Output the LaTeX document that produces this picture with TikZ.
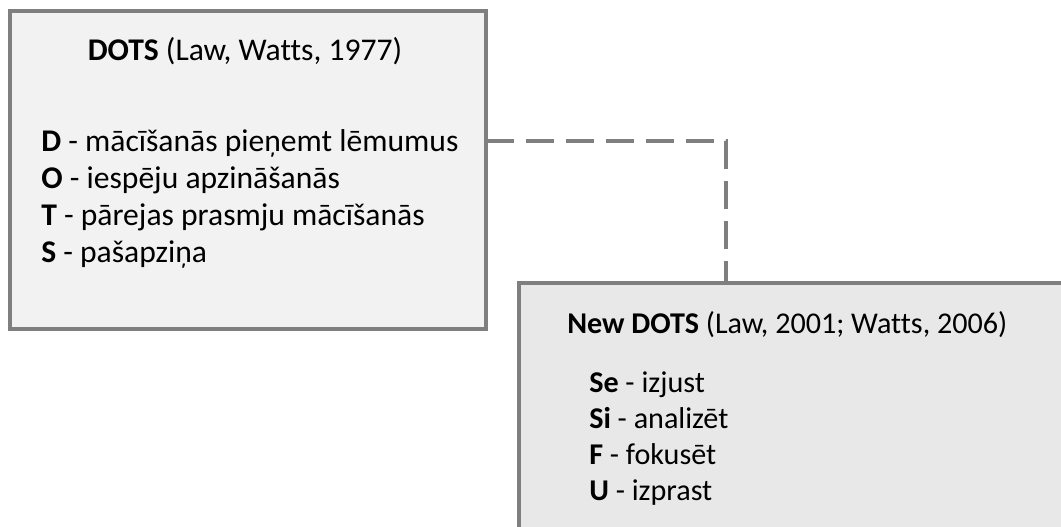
\documentclass[tikz,border=0pt]{standalone}
\usepackage{fontspec}
\setmainfont[Ligatures=CommonOff]{Carlito}
\usepackage{tikz}

\definecolor{boxgray}{HTML}{7F7F7F}
\definecolor{oldfill}{HTML}{F2F2F2}
\definecolor{newfill}{HTML}{E8E8E8}

\tikzset{
  modelbox/.style={draw=boxgray, line width=3pt, rectangle, inner sep=0pt,
    outer sep=0pt, anchor=north west},
  oldtxt/.style={inner sep=0pt, font=\fontsize{23.7}{28}\selectfont},
  newtxt/.style={inner sep=0pt, font=\fontsize{22.6}{27}\selectfont},
  olditem/.style={oldtxt, anchor=base west},
  newitem/.style={newtxt, anchor=base west},
  linkline/.style={draw=boxgray, line width=3pt, dash pattern=on 21pt off 9pt}
}

\begin{document}
\begin{tikzpicture}[x=0.75pt,y=-0.75pt]
        \clip (0,0) rectangle (1061,526);
        \fill[white] (0,0) rectangle (1061,526);
        % Boxes
        \node[modelbox, fill=oldfill, minimum width=357pt, minimum height=239pt]
          (dots) at (10,10.5) {};
        \node[modelbox, fill=newfill, minimum width=450pt, minimum height=220pt]
          (newdots) at (519,282.5) {};
        % DOTS
        \node[oldtxt, anchor=base] (dotstitle) at (245,60)
          {\textbf{DOTS} (Law, Watts, 1977)};
        \node[olditem] (d) at (41,151) {\textbf{D} - mācīšanās pieņemt lēmumus};
        \node[olditem] (o) at (41,188) {\textbf{O} - iespēju apzināšanās};
        \node[olditem] (t) at (41,225) {\textbf{T} - pārejas prasmju mācīšanās};
        \node[olditem] (s) at (41,262) {\textbf{S} - pašapziņa};
        % New DOTS
        \node[newitem] (newtitle) at (567,333)
          {\textbf{New DOTS} (Law, 2001; Watts, 2006)};
        \node[newitem] (se) at (589,392) {\textbf{Se} - izjust};
        \node[newitem] (si) at (589,428) {\textbf{Si} - analizēt};
        \node[newitem] (f) at (589,464) {\textbf{F} - fokusēt};
        \node[newitem] (u) at (589,500) {\textbf{U} - izprast};
        % Link
        \coordinate (bend) at (726,141);
        \draw[linkline] (dots.east |- bend) -- (bend) -- (newdots.north -| bend);
\end{tikzpicture}
\end{document}
